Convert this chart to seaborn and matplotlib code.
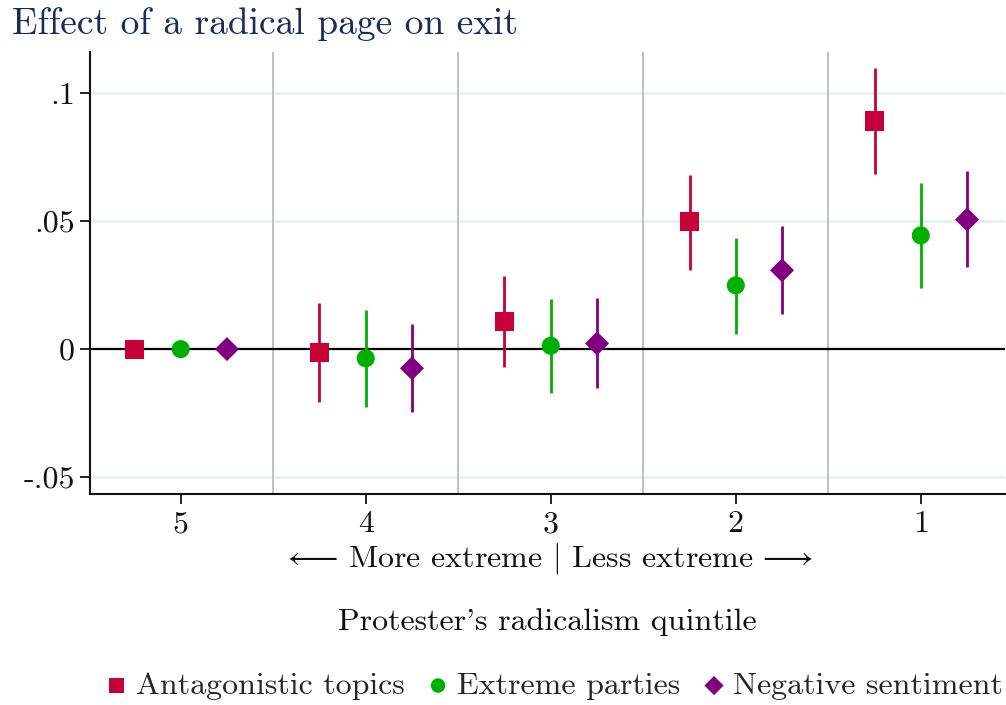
import numpy as np
import pandas as pd
import matplotlib
matplotlib.use("Agg")
import matplotlib.pyplot as plt
import seaborn as sns

# Quintiles ordered from most to least extreme
quintiles = ["5", "4", "3", "2", "1"]
series = ["Antagonistic topics", "Extreme parties", "Negative sentiment"]

antag_est = [0.0, -0.0013, 0.0108, 0.0498, 0.0891]
antag_lo = [np.nan, -0.0206, -0.0069, 0.0308, 0.0684]
antag_hi = [np.nan, 0.0181, 0.0286, 0.0682, 0.1097]

party_est = [0.0, -0.0036, 0.0013, 0.0249, 0.0444]
party_lo = [np.nan, -0.0225, -0.0170, 0.0058, 0.0239]
party_hi = [np.nan, 0.0152, 0.0194, 0.0436, 0.0648]

negsent_est = [0.0, -0.0075, 0.0022, 0.0308, 0.0506]
negsent_lo = [np.nan, -0.0245, -0.0153, 0.0137, 0.0321]
negsent_hi = [np.nan, 0.0100, 0.0199, 0.0480, 0.0694]

ytick_vals = [-0.05, 0.0, 0.05, 0.1]
ytick_labels = ["-.05", "0", ".05", ".1"]

colors = {"Antagonistic topics": "#c8003a",
          "Extreme parties": "#00b000",
          "Negative sentiment": "#800080"}
markers = {"Antagonistic topics": "s",
           "Extreme parties": "o",
           "Negative sentiment": "D"}
sizes = {"Antagonistic topics": 190,
         "Extreme parties": 170,
         "Negative sentiment": 150}
offsets = {"Antagonistic topics": -0.25,
           "Extreme parties": 0.0,
           "Negative sentiment": 0.25}

rows = []
for name, est, lo, hi in [(series[0], antag_est, antag_lo, antag_hi),
                          (series[1], party_est, party_lo, party_hi),
                          (series[2], negsent_est, negsent_lo, negsent_hi)]:
    for i, q in enumerate(quintiles):
        rows.append({"series": name, "quintile": q, "pos": i + 1 + offsets[name],
                     "est": est[i], "lo": lo[i], "hi": hi[i]})
df = pd.DataFrame(rows)

sns.set_theme(style="white")
serif = ["cmr10", "DejaVu Serif"]
plt.rcParams["font.family"] = serif
plt.rcParams["axes.formatter.use_mathtext"] = True
plt.rcParams["mathtext.fontset"] = "cm"

FS = 23

fig = plt.figure(figsize=(10.06, 7.05), dpi=100)
ax = fig.add_axes([0.0895, 0.2993, 0.9095, 0.6267])

# reference lines
for y in [-0.05, 0.05, 0.1]:
    ax.axhline(y, color="#e6eff1", lw=2, zorder=0)
for xb in [1.5, 2.5, 3.5, 4.5]:
    ax.axvline(xb, color="#c0c0c0", lw=1.4, zorder=0)
ax.axhline(0, color="black", lw=1.6, zorder=1)

# confidence intervals
for name in series:
    sub = df[(df["series"] == name) & df["lo"].notna()]
    ax.vlines(sub["pos"], sub["lo"], sub["hi"], color=colors[name], lw=2.0, zorder=2)

# point estimates
for name in series:
    sub = df[df["series"] == name]
    sns.scatterplot(data=sub, x="pos", y="est", color=colors[name], marker=markers[name],
                    s=sizes[name], edgecolor="none", linewidth=0, ax=ax, zorder=3,
                    label=name)

ax.set_xlim(0.51, 5.455)
ax.set_ylim(-0.0566, 0.116)
ax.set_xticks(range(1, 6))
ax.set_xticklabels(quintiles, fontsize=FS)
ax.set_yticks(ytick_vals)
ax.set_yticklabels(ytick_labels, fontsize=FS)
ax.set_xlabel("")
ax.set_ylabel("")

for side in ["top", "right"]:
    ax.spines[side].set_visible(False)
for side in ["left", "bottom"]:
    ax.spines[side].set_color("#111111")
    ax.spines[side].set_linewidth(1.5)
ax.tick_params(axis="both", which="major", direction="out", length=7, width=1.3,
               color="#111111", labelcolor="#111111", left=True, bottom=True)
ax.tick_params(axis="x", pad=5)
ax.tick_params(axis="y", pad=4)

ax.text(0.5, -0.145, r"$\longleftarrow\,$More extreme $|$ Less extreme$\,\longrightarrow$",
        transform=ax.transAxes, ha="center", va="center", fontsize=FS, color="#111111")
ax.text(0.5, -0.29, "Protester's radicalism quintile", transform=ax.transAxes,
        ha="center", va="center", fontsize=FS, color="#111111")

fig.text(0.012, 0.966, "Effect of a radical page on exit", ha="left", va="center",
         fontsize=27, color="#1a2b5c")

handles, labels = ax.get_legend_handles_labels()
ax.legend(handles, labels, loc="center", bbox_to_anchor=(0.503, -0.434), ncol=3,
          frameon=False, fontsize=FS, handletextpad=0.0, columnspacing=0.45,
          markerscale=0.8, handlelength=1.2)

fig.savefig("out.png", dpi=100)
